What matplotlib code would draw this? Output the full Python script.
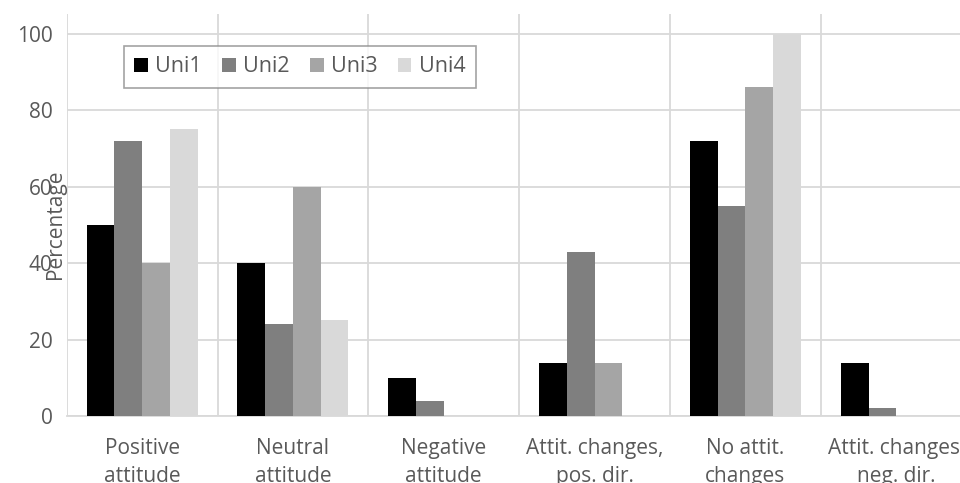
import matplotlib.pyplot as plt
import numpy as np

plt.rcParams['font.family'] = ['Open Sans', 'DejaVu Sans']

categories = [
    "Positive\nattitude",
    "Neutral\nattitude",
    "Negative\nattitude",
    "Attit. changes,\npos. dir.",
    "No attit.\nchanges",
    "Attit. changes,\nneg. dir.",
]
series_names = ["Uni1", "Uni2", "Uni3", "Uni4"]
uni1 = [50, 40, 10, 14, 72, 14]
uni2 = [72, 24, 4, 43, 55, 2]
uni3 = [40, 60, 0, 14, 86, 0]
uni4 = [75, 25, 0, 0, 100, 0]
y_ticks = [0, 20, 40, 60, 80, 100]

colors = ["#000000", "#7f7f7f", "#a5a5a5", "#d9d9d9"]
grid_color = "#d9d9d9"
text_color = "#595959"

fig = plt.figure(figsize=(9.6, 4.83), dpi=100)
# plot area runs past the right edge of the image, as in the reference
ax = fig.add_axes([66.7 / 960, 67 / 483, 905 / 960, 402 / 483])

x = np.arange(len(categories))
bar_w = 0.184
for i, (name, vals) in enumerate(zip(series_names, [uni1, uni2, uni3, uni4])):
    offset = (i - 1.5) * bar_w
    ax.bar(x + offset, vals, width=bar_w, color=colors[i], label=name,
           zorder=3, linewidth=0)

ax.set_xlim(-0.5, len(categories) - 0.5)
ax.set_ylim(0, 105.2)
ax.set_yticks(y_ticks)
ax.set_xticks(x)
ax.set_xticklabels(categories, linespacing=1.45)
ax.set_xticks(np.arange(len(categories) + 1) - 0.5, minor=True)

ax.grid(axis="y", color=grid_color, linewidth=1.3, zorder=0)
ax.grid(axis="x", which="minor", color=grid_color, linewidth=1.3, zorder=0)
ax.tick_params(axis="both", which="both", length=0, labelsize=15,
               labelcolor=text_color)
ax.tick_params(axis="x", pad=16)
ax.tick_params(axis="y", pad=10)
for side in ["top", "right", "left"]:
    ax.spines[side].set_visible(False)
ax.spines["bottom"].set_color(grid_color)
ax.spines["bottom"].set_linewidth(1.3)

fig.text(55 / 960, 1 - 224 / 483, "Percentage", rotation=90, ha="center",
         va="center", fontsize=15, color=text_color)

leg = fig.legend(loc="center", bbox_to_anchor=(300 / 960, 1 - 67 / 483),
                 ncol=4, fontsize=15.5, frameon=True, fancybox=False,
                 handlelength=0.62, handleheight=0.62, handletextpad=0.35,
                 columnspacing=0.95, borderpad=0.5, labelcolor=text_color)
leg.get_frame().set_edgecolor("#8c8c8c")
leg.get_frame().set_linewidth(1.2)

fig.savefig("out.png", dpi=100)
